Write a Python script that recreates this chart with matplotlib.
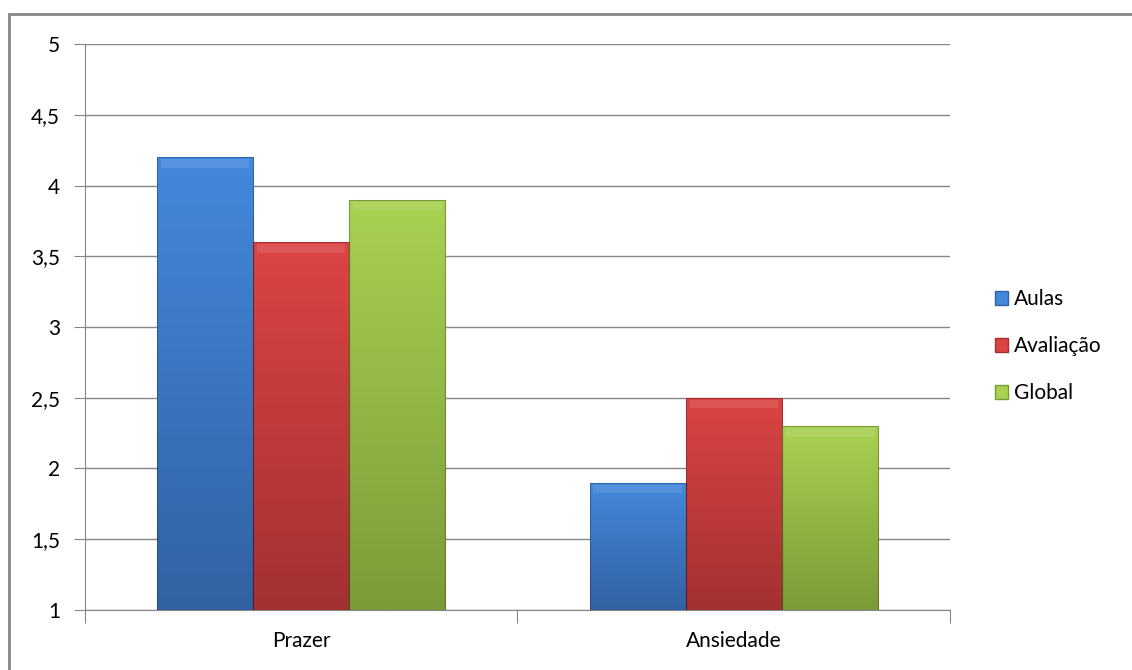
import numpy as np
import matplotlib.pyplot as plt
from matplotlib.patches import Rectangle, Patch
from matplotlib.colors import LinearSegmentedColormap

# data
categories = ['Prazer', 'Ansiedade']
series = ['Aulas', 'Avaliação', 'Global']
aulas = [4.2, 1.9]
avaliacao = [3.6, 2.5]
global_ = [3.9, 2.3]
y_ticks = [1, 1.5, 2, 2.5, 3, 3.5, 4, 4.5, 5]
y_labels = ['1', '1,5', '2', '2,5', '3', '3,5', '4', '4,5', '5']

values = [aulas, avaliacao, global_]
# (top, bottom) colours of the gradient in each bar
shades = [('#4488dc', '#3262a3'), ('#dc4444', '#a33131'), ('#a9d151', '#7b9b38')]

plt.rcParams['font.family'] = ['Lato', 'DejaVu Sans']

fig = plt.figure(figsize=(11.32, 6.70), dpi=100)
ax = fig.add_axes([0.0751, 0.0896, 0.7641, 0.8447])

x = np.arange(len(categories))
width = 1 / 4.5
for i, (vals, (top, bot)) in enumerate(zip(values, shades)):
    pos = x + (i - 1) * width
    bars = ax.bar(pos, np.array(vals) - 1, width, bottom=1, color=bot,
                  edgecolor='none', zorder=3, label=series[i])
    cmap = LinearSegmentedColormap.from_list('g', [bot, top])
    for b in bars:
        x0, y0 = b.get_x(), b.get_y()
        w, h = b.get_width(), b.get_height()
        grad = np.linspace(0, 1, 256).reshape(-1, 1)
        im = ax.imshow(grad, cmap=cmap, origin='lower', aspect='auto',
                       extent=[x0, x0 + w, y0, y0 + h], zorder=4)
        im.set_clip_path(b)
        # bevel strip on top
        ax.add_patch(Rectangle((x0 + w * 0.04, y0 + h - 0.075), w * 0.92, 0.06,
                               facecolor='white', alpha=0.10, edgecolor='none', zorder=5))
        ax.add_patch(Rectangle((x0, y0), w, h, facecolor='none',
                               edgecolor='#00000040', lw=0.8, zorder=6))

ax.set_xlim(-0.5, 1.5)
ax.set_ylim(1, 5)
ax.set_yticks(y_ticks)
ax.set_yticklabels(y_labels)
ax.set_xticks([-0.5, 0.5, 1.5])
ax.set_xticklabels([])
ax.set_xticks(x, minor=True)
ax.set_xticklabels(categories, minor=True)
ax.tick_params(axis='x', which='minor', length=0, pad=15, labelsize=15)
ax.tick_params(axis='x', which='major', direction='out', length=9, color='#868686')
ax.tick_params(axis='y', direction='out', length=8, color='#868686', pad=10, labelsize=15)
ax.grid(axis='y', color='#868686', lw=1, zorder=0)
for s in ['top', 'right']:
    ax.spines[s].set_visible(False)
for s in ['left', 'bottom']:
    ax.spines[s].set_color('#868686')

handles = [Patch(facecolor=t, edgecolor=b) for t, b in shades]
fig.legend(handles, series, loc='center left', bbox_to_anchor=(0.862, 0.483),
           frameon=False, fontsize=15, handlelength=0.65, handleheight=0.65,
           handletextpad=0.3, labelspacing=1.3)

# outer chart border
fig.patches.append(Rectangle((9 / 1132, -0.1), 1.2, 1.1 - 14 / 670, transform=fig.transFigure,
                             facecolor='none', edgecolor='#868686', lw=2))

fig.savefig('out.png', dpi=100)
